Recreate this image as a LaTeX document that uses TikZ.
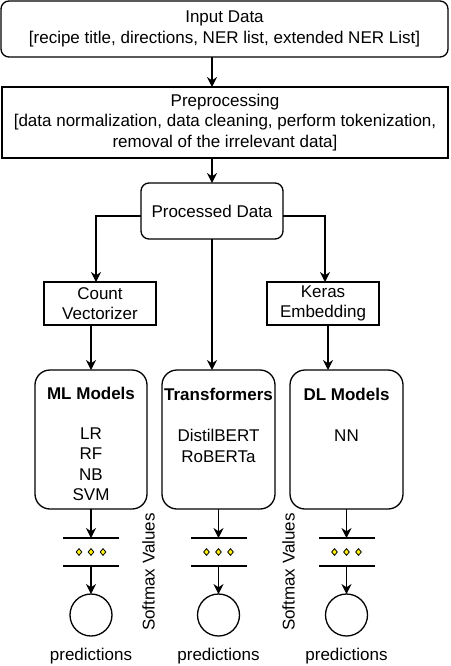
\documentclass[tikz,border=0pt]{standalone}
\usepackage{fontspec}
\setmainfont{Liberation Sans}
\usetikzlibrary{arrows.meta,shapes.geometric}

\begin{document}
\begin{tikzpicture}[x=1pt, y=-1pt, line width=1.3pt,
    font=\fontsize{17}{20.5}\selectfont,
    arr/.style={-{Stealth[length=10pt,width=10pt]}},
    rbox/.style={draw, rounded corners=#1, outer sep=0pt, inner sep=0pt, align=center},
    rbox/.default=8pt,
    sbox/.style={draw, outer sep=0pt, inner sep=0pt, align=center},
    txt/.style={inner sep=0pt, align=center},
    title/.style={txt, font=\fontsize{17}{20.5}\selectfont\bfseries},
    bar/.style={minimum width=56pt, minimum height=28pt, inner sep=0pt, outer sep=0pt},
    dot/.style={diamond, draw, fill=yellow, line width=0.8pt, minimum width=6pt, minimum height=7pt, inner sep=0pt},
    outc/.style={circle, draw, minimum size=42pt, inner sep=0pt, outer sep=0pt}]
    \useasboundingbox (0,0) rectangle (450,666);

    \node[rbox=8pt, minimum width=447pt, minimum height=56pt] (input) at (224.5,29)
        {Input Data\\{[recipe title, directions, NER list, extended NER List]}};
    \node[sbox, minimum width=446pt, minimum height=71pt] (prep) at (225,122.5)
        {Preprocessing\\{[data normalization, data cleaning, perform tokenization,}\\removal of the irrelevant data]};
    \node[rbox=8pt, minimum width=142pt, minimum height=56pt] (proc) at (212,211) {Processed Data};
    \node[sbox, minimum width=112pt, minimum height=43pt] (cv) at (100,303.5) {Count\\Vectorizer};
    \node[sbox, minimum width=112pt, minimum height=43pt] (ke) at (323,303.5) {Keras\\Embedding};

    % model boxes
    \node[rbox=15pt, minimum width=112pt, minimum height=139pt] (ml) at (91,439.5) {};
    \node[rbox=15pt, minimum width=113pt, minimum height=139pt] (tr) at (218.5,439.5) {};
    \node[rbox=15pt, minimum width=113pt, minimum height=139pt] (dl) at (346.5,439.5) {};
    \node[title] (mlt) at (91,393) {ML Models};
    \node[title] (trt) at (218.5,394) {Transformers};
    \node[title] (dlt) at (346.5,394) {DL Models};
    \node[txt, anchor=north] (mll) at (91,427) {LR\\RF\\NB\\SVM};
    \node[txt, anchor=north] (trl) at (218.5,429) {DistilBERT\\RoBERTa};
    \node[txt, anchor=north] (dll) at (346.5,429) {NN};

    \draw[arr] (input.south -| proc.north) -- (prep.north -| proc.north);
    \draw[arr] (prep.south -| proc.north) -- (proc.north);
    \draw[arr] ([yshift=-5pt]proc.west) -| ([xshift=-4pt]cv.north);
    \draw[arr] ([yshift=-5pt]proc.east) -| ([xshift=2pt]ke.north);
    \draw[arr] (cv.south -| ml.north) -- (ml.north);
    \draw[arr] (proc.south) -- (proc.south |- tr.north);
    \draw[arr] ([xshift=5pt]ke.south) -- ([xshift=5pt]ke.south |- dl.north);

    % softmax layers and outputs
    \foreach \m/\x in {ml/91, tr/218.5, dl/346.5} {
        \node[bar] (\m-sm) at (\x,552) {};
        \draw (\m-sm.north west) -- (\m-sm.north east);
        \draw (\m-sm.south west) -- (\m-sm.south east);
        \node[dot] (\m-d1) at ([xshift=-12pt]\m-sm.center) {};
        \node[dot] (\m-d2) at (\m-sm.center) {};
        \node[dot] (\m-d3) at ([xshift=12pt]\m-sm.center) {};
        \node[outc] (\m-out) at (\x,615) {};
        \node[txt] (\m-pred) at (\x,656) {predictions};
        \draw[arr] (\m.south -| \m-sm.north) -- (\m-sm.north);
        \draw[arr] (\m-sm.south) -- (\m-out.north);
    }
    \node[txt, rotate=90] (smv1) at (148.5,572) {Softmax Values};
    \node[txt, rotate=90] (smv2) at (288.5,572) {Softmax Values};
\end{tikzpicture}
\end{document}
